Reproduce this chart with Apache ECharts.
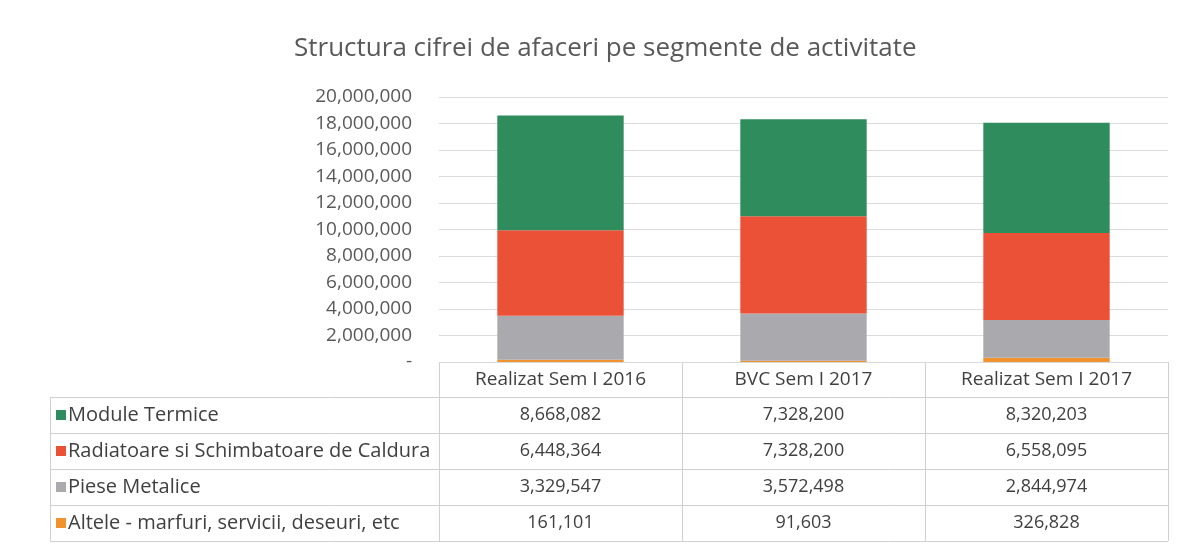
<!DOCTYPE html>
<html>
<head>
<meta charset="utf-8">
<script src="https://cdn.jsdelivr.net/npm/echarts@6/dist/echarts.min.js"></script>
<style>
  html, body { margin: 0; padding: 0; background: #fff; }
  #main { width: 1181px; height: 546px; }
</style>
</head>
<body>
<div id="main"></div>
<script>
// categories / columns of the data table
const categories = ['Realizat Sem I 2016', 'BVC Sem I 2017', 'Realizat Sem I 2017'];

// series values, in table order (top row first)
const moduleTermice = [8668082, 7328200, 8320203];
const radiatoare = [6448364, 7328200, 6558095];
const pieseMetalice = [3329547, 3572498, 2844974];
const altele = [161101, 91603, 326828];

const seriesNames = [
  'Module Termice',
  'Radiatoare si Schimbatoare de Caldura',
  'Piese Metalice',
  'Altele - marfuri, servicii, deseuri, etc'
];
const tableRows = [moduleTermice, radiatoare, pieseMetalice, altele];
const seriesColors = ['#2f8c5c', '#eb5137', '#aaa9ad', '#f0922e'];

const FONT = 'Open Sans';
const fmt = v => Number(v).toLocaleString('en-US');

var myChart = echarts.init(document.getElementById('main'));

// stacked bars go bottom-up, so reverse the table order
const series = tableRows.map(function (vals, i) {
  return {
    name: seriesNames[i],
    type: 'bar',
    stack: 'total',
    barWidth: '52%',
    itemStyle: { color: seriesColors[i] },
    data: vals
  };
}).reverse();

const option = {
  backgroundColor: '#fff',
  animation: false,
  title: {
    text: 'Structura cifrei de afaceri pe segmente de activitate',
    left: 289,
    top: 31,
    textStyle: { fontFamily: FONT, fontSize: 26, fontWeight: 'normal', color: '#595959' }
  },
  grid: { left: 439, right: 13, top: 97, bottom: 184, containLabel: false },
  xAxis: {
    type: 'category',
    data: categories,
    axisLine: { show: true, lineStyle: { color: '#d9d9d9' } },
    axisTick: { show: false },
    axisLabel: { margin: 8, fontFamily: FONT, fontSize: 19, color: '#404040' }
  },
  yAxis: {
    type: 'value',
    min: 0,
    max: 20000000,
    interval: 2000000,
    axisLine: { show: false },
    axisTick: { show: false },
    splitLine: { lineStyle: { color: '#dcdcdc' } },
    axisLabel: {
      margin: 27,
      fontFamily: FONT,
      fontSize: 19,
      color: '#595959',
      formatter: v => (v === 0 ? '-' : fmt(v))
    }
  },
  series: series
};

myChart.setOption(option);

// data table below the plot, positioned from the axes
const centers = categories.map(c => myChart.convertToPixel({ xAxisIndex: 0 }, c));
const band = centers[1] - centers[0];
const yZero = myChart.convertToPixel({ yAxisIndex: 0 }, 0);
const headerH = 35;
const rowH = 36;
const tableLeft = 50;
const colLeft = centers[0] - band / 2;
const colRight = centers[centers.length - 1] + band / 2;
const bodyTop = yZero + headerH;
const bodyBottom = bodyTop + rowH * tableRows.length;
const lineStyle = { stroke: '#d0d0d0', lineWidth: 1 };

const graphic = [];
// horizontal lines of the body
for (let r = 0; r <= tableRows.length; r++) {
  const y = Math.round(bodyTop + r * rowH) + 0.5;
  graphic.push({ type: 'line', shape: { x1: tableLeft, y1: y, x2: colRight, y2: y }, style: lineStyle, silent: true });
}
// left border of the label column
graphic.push({ type: 'line', shape: { x1: tableLeft + 0.5, y1: bodyTop, x2: tableLeft + 0.5, y2: bodyBottom }, style: lineStyle, silent: true });
// column borders (header + body)
for (let c = 0; c <= categories.length; c++) {
  const x = Math.round(colLeft + c * band) + 0.5;
  graphic.push({ type: 'line', shape: { x1: x, y1: yZero, x2: x, y2: bodyBottom }, style: lineStyle, silent: true });
}
// rows: legend key, name, values
tableRows.forEach(function (vals, r) {
  const cy = bodyTop + r * rowH + rowH / 2;
  graphic.push({
    type: 'rect',
    shape: { x: tableLeft + 6, y: cy - 5, width: 10, height: 10 },
    style: { fill: seriesColors[r] },
    silent: true
  });
  graphic.push({
    type: 'text',
    x: tableLeft + 18,
    y: cy,
    style: { text: seriesNames[r], fontFamily: FONT, fontSize: 20, fill: '#404040', align: 'left', verticalAlign: 'middle' },
    silent: true
  });
  vals.forEach(function (v, c) {
    graphic.push({
      type: 'text',
      x: centers[c],
      y: cy,
      style: { text: fmt(v), fontFamily: FONT, fontSize: 18, fill: '#404040', align: 'center', verticalAlign: 'middle' },
      silent: true
    });
  });
});

myChart.setOption({ graphic: graphic });
</script>
</body>
</html>
